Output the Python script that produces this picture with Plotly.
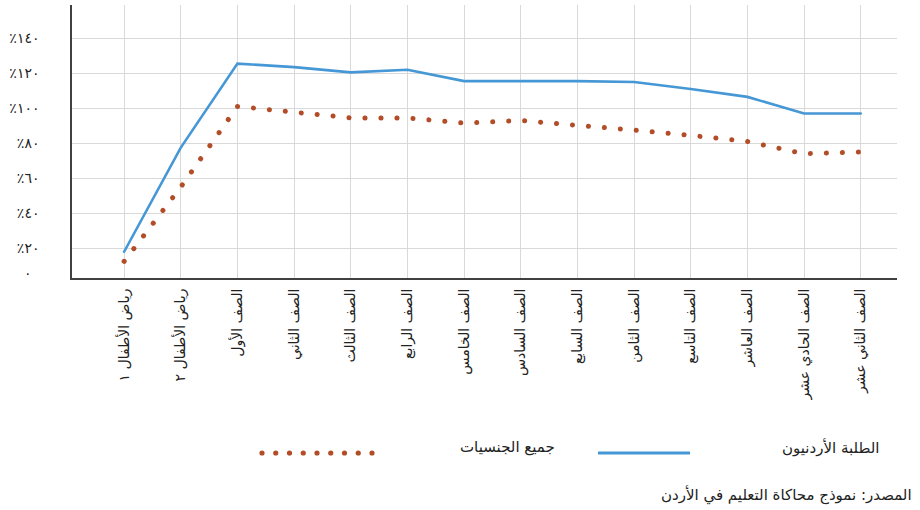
import plotly.graph_objects as go

# ---- data ----
categories = [
    "رياض الأطفال ١", "رياض الأطفال ٢", "الصف الأول", "الصف الثاني",
    "الصف الثالث", "الصف الرابع", "الصف الخامس", "الصف السادس",
    "الصف السابع", "الصف الثامن", "الصف التاسع", "الصف العاشر",
    "الصف الحادي عشر", "الصف الثاني عشر",
]
jordanian = [18, 77.5, 125.5, 123.5, 120.5, 122, 115.5, 115.5, 115.5, 115, 111, 106.5, 97, 97]
all_nationalities = [12.5, 55, 101, 98, 94.5, 94.5, 91.5, 93, 90.5, 87.5, 84.5, 81, 74, 75]

y_tickvals = [20, 40, 60, 80, 100, 120, 140]
y_ticktext = ["٪٢٠", "٪٤٠", "٪٦٠", "٪٨٠", "٪١٠٠", "٪١٢٠", "٪١٤٠"]
zero_label = "٠"
legend_labels = ["الطلبة الأردنيون", "جميع الجنسيات"]
source_text = "المصدر: نموذج محاكاة التعليم في الأردن"

BLUE = "#4597d5"
BROWN = "#b24d27"
GRID = "#d9d9d9"
FONT = "DejaVu Sans"

W, H = 920, 510
ML, MR, MT, MB = 72, 23, 5, 232

fig = go.Figure()
fig.add_trace(go.Scatter(
    x=categories, y=jordanian, mode="lines",
    line=dict(color=BLUE, width=2.6), showlegend=False, name=legend_labels[0],
))
fig.add_trace(go.Scatter(
    x=categories, y=all_nationalities, mode="lines",
    line=dict(color=BROWN, width=5, dash="0.1px,15.9px"), showlegend=False,
    name=legend_labels[1],
))

def px_x(p):
    return (p - ML) / (W - ML - MR)

def px_y(p):
    return 1 - (p - MT) / (H - MT - MB)

shapes = []
# legend: blue line sample
shapes.append(dict(type="line", xref="paper", yref="paper",
                   x0=px_x(598), x1=px_x(690), y0=px_y(453), y1=px_y(453),
                   line=dict(color=BLUE, width=3)))
# legend: brown dots sample
for i in range(9):
    cx = 262 + i * 13.75
    shapes.append(dict(type="circle", xref="paper", yref="paper",
                       x0=px_x(cx - 2.6), x1=px_x(cx + 2.6),
                       y0=px_y(453 + 2.6), y1=px_y(453 - 2.6),
                       fillcolor=BROWN, line=dict(width=0)))

annotations = [
    dict(text=zero_label, xref="paper", yref="paper", x=px_x(28), y=px_y(273),
         xanchor="center", yanchor="middle", showarrow=False,
         font=dict(family=FONT, size=14, color="#222")),
    dict(text=legend_labels[0], xref="paper", yref="paper", x=px_x(830), y=px_y(447),
         xanchor="center", yanchor="middle", showarrow=False,
         font=dict(family=FONT, size=15, color="#222")),
    dict(text=legend_labels[1], xref="paper", yref="paper", x=px_x(508), y=px_y(447),
         xanchor="center", yanchor="middle", showarrow=False,
         font=dict(family=FONT, size=15, color="#222")),
    dict(text=source_text, xref="paper", yref="paper", x=px_x(914), y=px_y(495),
         xanchor="right", yanchor="middle", showarrow=False,
         font=dict(family=FONT, size=15, color="#222")),
]

fig.update_layout(
    width=W, height=H,
    margin=dict(l=ML, r=MR, t=MT, b=MB),
    paper_bgcolor="white", plot_bgcolor="white",
    shapes=shapes, annotations=annotations,
    font=dict(family=FONT, color="#222"),
)
fig.update_xaxes(
    type="category", range=[-0.92, 13.64],
    showgrid=True, gridcolor=GRID, gridwidth=1,
    showline=True, linecolor="#404040", linewidth=2,
    tickangle=-90, tickfont=dict(family=FONT, size=14, color="#222"),
    ticks="", ticklabelstandoff=3,
)
fig.update_yaxes(
    range=[3, 159], tickvals=y_tickvals, ticktext=y_ticktext,
    showgrid=True, gridcolor=GRID, gridwidth=1,
    showline=True, linecolor="#404040", linewidth=1.5, zeroline=False,
    tickfont=dict(family=FONT, size=14, color="#222"),
    ticks="", ticklabelstandoff=28,
)

post = """
document.body.style.margin = '0';
document.body.style.overflow = 'hidden';
var gd = document.getElementById('{plot_id}');
function roundCaps(){
  gd.querySelectorAll('.scatterlayer .trace .js-line').forEach(function(p){
    p.style.strokeLinecap = 'round';
  });
}
roundCaps();
gd.on('plotly_afterplot', roundCaps);
"""
fig.write_html("out.html", post_script=post, config={"displayModeBar": False})
